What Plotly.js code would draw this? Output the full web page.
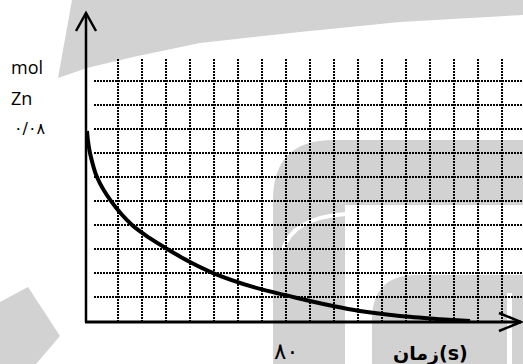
<!DOCTYPE html>
<html>
<head>
<meta charset="utf-8">
<script src="https://cdn.plot.ly/plotly-3.0.1.min.js"></script>
<style>html,body{margin:0;padding:0;background:#fff;}#chart{width:523px;height:364px;}</style>
</head>
<body>
<div id="chart"></div>
<script>
// ---- data ----
const timeS = [0, 0.4, 1.2, 4.0, 9.6, 18.1, 25.1, 32.2, 41.4, 50.7, 66.7, 82.8, 98.9, 109.7, 125.8, 141.9, 154];
const molZn = [0.0800, 0.0758, 0.0708, 0.0607, 0.0507, 0.0406, 0.0352, 0.0306, 0.0251, 0.0205, 0.0147, 0.0105, 0.0067, 0.0046, 0.0025, 0.0012, 0.0004];
const yTickVal = [0.08];
const yTickText = ['۰/۰۸'];
const xTickVal = [80];
const xTickText = ['۸۰'];
const yUnitLines = ['mol', 'Zn'];
const xTitle = 'زمان(s)';

// ---- layout geometry ----
const W = 523, H = 364;
const X0PX = 87, PX_PER_S = 2.4875;     // t = 0 at x = 87 px
const Y0PX = 322, PX_PER_MOL = 2387.5;  // 0 mol at y = 322 px
const xRange = [(0 - X0PX) / PX_PER_S, (W - X0PX) / PX_PER_S];
const yRange = [(Y0PX - H) / PX_PER_MOL, Y0PX / PX_PER_MOL];
const fx = px => px / W;
const fy = py => 1 - py / H;
function path(pts, close) {
  return pts.map((p, i) => (i ? 'L' : 'M') + fx(p[0]).toFixed(5) + ',' + fy(p[1]).toFixed(5)).join(' ') + (close ? ' Z' : '');
}
const GRAY = '#d2d2d2';
const shapes = [];
function addPath(d, fill, lineColor, lw, layer, dash) {
  shapes.push({type: 'path', xref: 'paper', yref: 'paper', path: d, fillcolor: fill || 'rgba(0,0,0,0)',
    line: {color: lineColor || 'rgba(0,0,0,0)', width: lw || 0, dash: dash || 'solid'}, layer: layer || 'below'});
}
function P(x, y) { return fx(x).toFixed(5) + ',' + fy(y).toFixed(5); }

// watermark-like background shapes
addPath(path([[72,0],[523,0],[523,15],[400,22],[300,32],[200,43],[133,57],[87,68],[58,78]], true), GRAY);
addPath('M' + P(273,364) + ' L' + P(273,200) + ' Q' + P(273,140) + ' ' + P(333,140) + ' L' + P(523,140) + ' L' + P(523,205) + ' L' + P(345,205) + ' L' + P(345,364) + ' Z', GRAY);
addPath('M' + P(283,250) + ' Q' + P(292,218) + ' ' + P(345,214), null, '#ffffff', 4);
addPath('M' + P(372,364) + ' L' + P(372,320) + ' Q' + P(372,275) + ' ' + P(417,275) + ' L' + P(523,275) + ' L' + P(523,364) + ' Z', GRAY);
addPath(path([[507,293],[512,293],[512,364],[507,364]], true), '#ffffff');
addPath(path([[0,302],[28,287],[60,336],[36,364],[0,364]], true), GRAY);

// dotted grid
for (let i = 0; i < 10; i++) {
  const y = 81 + 24 * i;
  addPath(path([[94, y], [523, y]]), null, '#000', 2, 'below', '2px,1px');
}
for (let j = 0; j < 17; j++) {
  const x = 118 + 24 * j;
  addPath(path([[x, 59], [x, 322]]), null, '#000', 2, 'below', '2px,1px');
}
// axes with open arrowheads
addPath(path([[86, 322], [86, 13]]), null, '#000', 2.5, 'above');
addPath(path([[76, 31], [86, 13], [96, 31]]), null, '#000', 2.5, 'above');
addPath(path([[85, 322], [521, 322]]), null, '#000', 3, 'above');
addPath(path([[499, 313], [521, 322], [499, 331]]), null, '#000', 2.5, 'above');

const annotations = [
  {xref: 'paper', yref: 'paper', x: fx(9), y: fy(67), xanchor: 'left', yanchor: 'middle', text: yUnitLines[0], showarrow: false, font: {family: 'Open Sans', size: 18, color: '#000'}},
  {xref: 'paper', yref: 'paper', x: fx(9), y: fy(98), xanchor: 'left', yanchor: 'middle', text: yUnitLines[1], showarrow: false, font: {family: 'Open Sans', size: 18, color: '#000'}},
  {xref: 'paper', yref: 'y', x: fx(30), y: yTickVal[0] + 3 / PX_PER_MOL, xanchor: 'center', yanchor: 'middle', text: yTickText[0], showarrow: false, font: {family: 'DejaVu Sans', size: 16, color: '#000'}},
  {xref: 'x', yref: 'paper', x: xTickVal[0], y: fy(351), xanchor: 'center', yanchor: 'middle', text: xTickText[0], showarrow: false, font: {family: 'DejaVu Sans', size: 23, color: '#000'}},
  {xref: 'paper', yref: 'paper', x: fx(430), y: fy(353), xanchor: 'center', yanchor: 'middle', text: '<b>' + xTitle + '</b>', showarrow: false, font: {family: 'DejaVu Sans', size: 19, color: '#000'}}
];

const trace = {
  x: timeS, y: molZn, type: 'scatter', mode: 'lines',
  line: {color: '#000', width: 4, shape: 'spline', smoothing: 0.8},
  hoverinfo: 'skip'
};

const layout = {
  width: W, height: H,
  margin: {l: 0, r: 0, t: 0, b: 0, pad: 0},
  paper_bgcolor: '#ffffff', plot_bgcolor: 'rgba(0,0,0,0)',
  showlegend: false,
  xaxis: {range: xRange, visible: false, showgrid: false, zeroline: false, fixedrange: true},
  yaxis: {range: yRange, visible: false, showgrid: false, zeroline: false, fixedrange: true},
  shapes: shapes,
  annotations: annotations
};

Plotly.newPlot('chart', [trace], layout, {staticPlot: true, displayModeBar: false});
</script>
</body>
</html>
